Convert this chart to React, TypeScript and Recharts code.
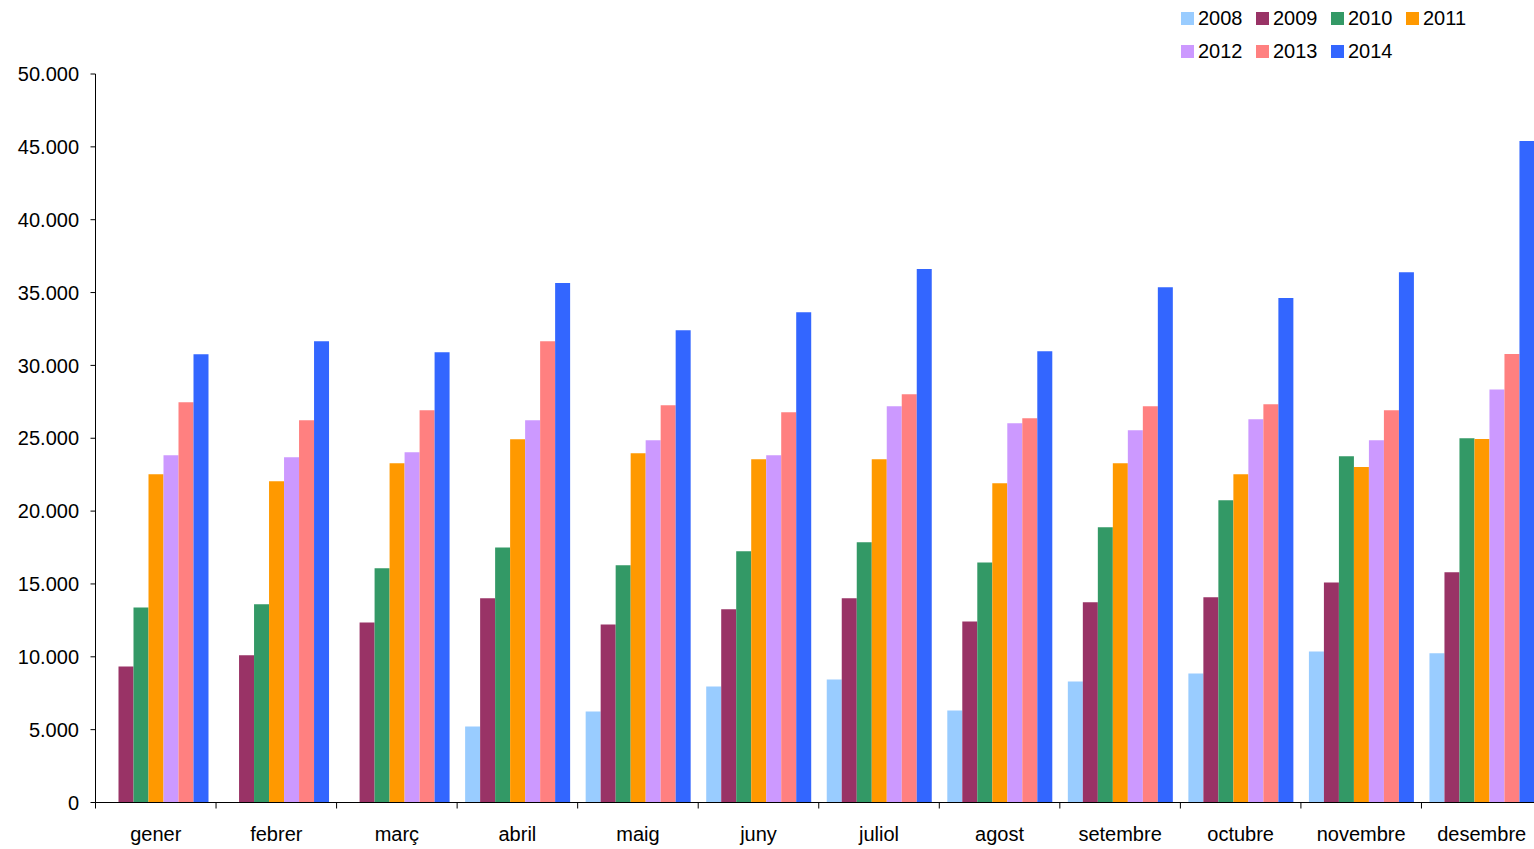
import React from "react";
import { BarChart, Bar, XAxis, YAxis, Legend } from "recharts";

// Monthly values per year
const months = ["gener", "febrer", "març", "abril", "maig", "juny", "juliol", "agost", "setembre", "octubre", "novembre", "desembre"];
const years = ["2008", "2009", "2010", "2011", "2012", "2013", "2014"];
const yearColors = ["#99CCFF", "#993366", "#339966", "#FF9900", "#CC99FF", "#FF8080", "#3366FF"];

const v2008 = [null, null, null, 5220, 6250, 7970, 8450, 6320, 8310, 8860, 10370, 10250];
const v2009 = [9340, 10100, 12360, 14010, 12220, 13260, 14010, 12430, 13740, 14080, 15100, 15800];
const v2010 = [13390, 13600, 16070, 17510, 16280, 17240, 17860, 16480, 18890, 20740, 23760, 25000];
const v2011 = [22530, 22050, 23280, 24930, 23970, 23560, 23560, 21910, 23280, 22530, 23020, 24940];
const v2012 = [23830, 23690, 24040, 26240, 24860, 23830, 27200, 26030, 25550, 26300, 24870, 28350];
const v2013 = [27470, 26240, 26920, 31660, 27270, 26790, 28020, 26370, 27200, 27340, 26920, 30780];
const v2014 = [30770, 31660, 30900, 35650, 32420, 33650, 36610, 30970, 35370, 34620, 36400, 45400];

const yTicks = [0, 5000, 10000, 15000, 20000, 25000, 30000, 35000, 40000, 45000, 50000];

const seriesValues = [v2008, v2009, v2010, v2011, v2012, v2013, v2014];
const data = months.map((m, i) => {
  const row: Record<string, any> = { month: m };
  years.forEach((y, k) => {
    row[y] = seriesValues[k][i];
  });
  return row;
});

const FONT = "'Liberation Sans', Arial, sans-serif";
const CHART_W = 1542;
const CHART_H = 849;
const Y_AXIS_W = 95.5;
const BAND = (CHART_W - Y_AXIS_W) / months.length;

const fmtThousands = (v: number) => String(v).replace(/\B(?=(\d{3})+(?!\d))/g, ".");

// month label centred in the band, tick mark on the band's left edge
const MonthTick = (props: any) => {
  const { x, y, payload } = props;
  const edge = x - BAND / 2;
  return (
    <g>
      <line x1={edge} y1={y} x2={edge} y2={y + 6} stroke="#000" strokeWidth={1} />
      <text x={x} y={y + 38} textAnchor="middle" fontSize={20} fontFamily={FONT} fill="#000">
        {payload.value}
      </text>
    </g>
  );
};

const YearLegend = (props: any) => {
  const { payload } = props;
  return (
    <div style={{ display: "flex", flexWrap: "wrap", width: 300, fontFamily: FONT }}>
      {(payload || []).map((item: any) => (
        <div
          key={item.value}
          style={{ width: 75, height: 33, display: "flex", alignItems: "center" }}
        >
          <span style={{ width: 13, height: 13, background: item.color, marginRight: 4, display: "inline-block" }} />
          <span style={{ fontSize: 20, color: "#000" }}>{item.value}</span>
        </div>
      ))}
    </div>
  );
};

export default function App() {
  return (
    <div
      style={{
        position: "absolute",
        left: 0,
        top: 0,
        width: 1534,
        height: 849,
        overflow: "hidden",
        background: "#fff",
      }}
    >
      <BarChart
        width={CHART_W}
        height={CHART_H}
        data={data}
        margin={{ top: 74, right: 0, bottom: 0, left: 0 }}
        barGap={0}
      >
        <XAxis
          dataKey="month"
          height={46.5}
          axisLine={{ stroke: "#000", strokeWidth: 1 }}
          tickLine={false}
          tickSize={0}
          tickMargin={0}
          interval={0}
          tick={<MonthTick />}
        />
        <YAxis
          width={Y_AXIS_W}
          domain={[0, 50000]}
          ticks={yTicks}
          interval={0}
          tickFormatter={fmtThousands}
          axisLine={{ stroke: "#000", strokeWidth: 1 }}
          tickLine={{ stroke: "#000", strokeWidth: 1 }}
          tickSize={5}
          tickMargin={11.5}
          tick={{ fontSize: 20, fontFamily: FONT, fill: "#000" }}
        />
        <Legend
          layout="horizontal"
          verticalAlign="middle"
          align="center"
          wrapperStyle={{ top: 2, left: 1181, width: 300, height: 70 }}
          content={<YearLegend />}
        />
        {years.map((y, k) => (
          <Bar key={y} dataKey={y} fill={yearColors[k]} barSize={15} isAnimationActive={false} />
        ))}
      </BarChart>
    </div>
  );
}
